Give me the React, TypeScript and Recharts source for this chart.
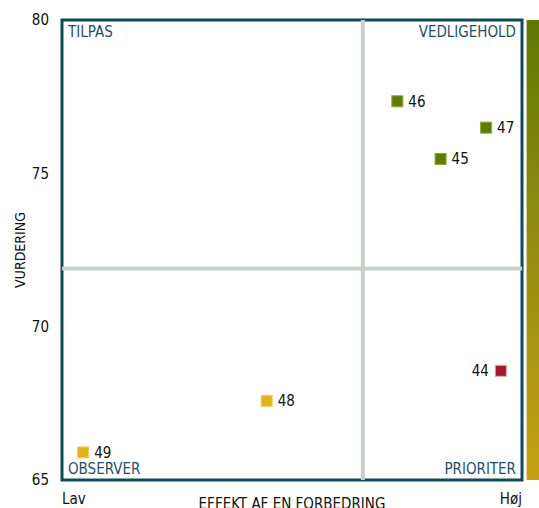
import React from 'react';
import { ScatterChart, Scatter, XAxis, YAxis, ReferenceLine, ReferenceArea, Label } from 'recharts';

// ---- data ----
const ids = ['44', '45', '46', '47', '48', '49'];
const effect = [95.4, 82.3, 72.9, 92.2, 44.5, 4.6];
const rating = [68.56, 75.47, 77.35, 76.49, 67.58, 65.9];
const groups = ['red', 'green', 'green', 'green', 'yellow', 'yellow'];
const leftLabelled = ['44'];
const yTicks = [65, 70, 75, 80];
const xTicks = [0, 100];
const xTickLabels = ['Lav', 'Høj'];
const xDomain: [number, number] = [0, 100];
const yDomain: [number, number] = [65, 80];
const xMid = 65.4;
const yMid = 71.9;
const quadrantLabels = ['TILPAS', 'VEDLIGEHOLD', 'OBSERVER', 'PRIORITER'];

const FONT = "'DejaVu Sans Condensed', 'DejaVu Sans', sans-serif";
const TEAL = '#0e4a5e';
const QTEXT = '#1d5068';

const groupStyle: Record<string, { fill: string; stroke: string }> = {
  green: { fill: '#5e7a00', stroke: '#8fa828' },
  yellow: { fill: '#e3b21e', stroke: '#f2cc60' },
  red: { fill: '#a3192b', stroke: '#e7a0a8' },
};

const points = ids.map((id, i) => ({ id, x: effect[i], y: rating[i], group: groups[i] }));
const seriesNames = ['green', 'yellow', 'red'];

const Marker = (props: any) => {
  const { cx, cy, payload } = props;
  if (cx == null || cy == null) return null;
  const st = groupStyle[payload.group];
  const left = leftLabelled.includes(payload.id);
  return (
    <g>
      <rect x={cx - 5.5} y={cy - 5.5} width={11} height={11} fill={st.fill} stroke={st.stroke} strokeWidth={1} />
      <text
        x={left ? cx - 12 : cx + 11}
        y={cy}
        dy="0.36em"
        textAnchor={left ? 'end' : 'start'}
        fill="#111"
        fontSize={15}
        fontFamily={FONT}
      >
        {payload.id}
      </text>
    </g>
  );
};

const XTick = (props: any) => {
  const { x, y, payload, index } = props;
  const first = index === 0;
  return (
    <text x={x} y={y} dy="0.71em" textAnchor={first ? 'start' : 'end'} fill="#111" fontSize={15} fontFamily={FONT}>
      {xTickLabels[xTicks.indexOf(payload.value)]}
    </text>
  );
};

const YLabel = (props: any) => {
  const vb = props.viewBox || {};
  const cx = 19.5;
  const cy = (vb.y ?? 20) + (vb.height ?? 460) / 2;
  return (
    <text
      x={cx}
      y={cy}
      dy="0.36em"
      transform={`rotate(-90, ${cx}, ${cy})`}
      textAnchor="middle"
      fill="#111"
      fontSize={14}
      fontFamily={FONT}
    >
      VURDERING
    </text>
  );
};

export default function App() {
  const qLabel = (i: number, position: any) => ({
    value: quadrantLabels[i],
    position,
    offset: 6,
    fill: QTEXT,
    fontSize: 15,
    fontFamily: FONT,
  });
  return (
    <div style={{ position: 'absolute', left: 0, top: 0, background: '#fff' }}>
      <ScatterChart width={539} height={508} margin={{ top: 20, right: 17, left: 0, bottom: 0 }}>
        <defs>
          <linearGradient id="scaleGrad" x1="0" y1="0" x2="0" y2="1">
            <stop offset="0%" stopColor="#5e7800" />
            <stop offset="40%" stopColor="#8a8a10" />
            <stop offset="100%" stopColor="#c6a012" />
          </linearGradient>
        </defs>
        <XAxis
          type="number"
          dataKey="x"
          domain={xDomain}
          ticks={xTicks}
          tick={<XTick />}
          axisLine={false}
          tickLine={false}
          tickSize={0}
          tickMargin={13}
          height={28}
          allowDataOverflow
        >
          <Label value="EFFEKT AF EN FORBEDRING" position="insideBottom" offset={-1} fill="#111" fontSize={15} fontFamily={FONT} />
        </XAxis>
        <YAxis
          type="number"
          dataKey="y"
          domain={yDomain}
          ticks={yTicks}
          axisLine={false}
          tickLine={false}
          tickSize={0}
          tickMargin={13}
          width={62}
          tick={{ fill: '#111', fontSize: 15, fontFamily: FONT }}
          allowDataOverflow
          label={<YLabel />}
        />
        <ReferenceArea x1={101} x2={104} y1={65} y2={80} ifOverflow="visible" fill="url(#scaleGrad)" fillOpacity={1} stroke="none" />
        <ReferenceLine x={xMid} stroke="#c7d0c8" strokeWidth={4} />
        <ReferenceLine y={yMid} stroke="#c7d0c8" strokeWidth={4} />
        <ReferenceArea x1={0} x2={xMid} y1={yMid} y2={80} fillOpacity={0} strokeOpacity={0} label={qLabel(0, 'insideTopLeft')} />
        <ReferenceArea x1={xMid} x2={100} y1={yMid} y2={80} fillOpacity={0} strokeOpacity={0} label={qLabel(1, 'insideTopRight')} />
        <ReferenceArea x1={0} x2={xMid} y1={65} y2={yMid} fillOpacity={0} strokeOpacity={0} label={qLabel(2, 'insideBottomLeft')} />
        <ReferenceArea x1={xMid} x2={100} y1={65} y2={yMid} fillOpacity={0} strokeOpacity={0} label={qLabel(3, 'insideBottomRight')} />
        <ReferenceArea x1={0} x2={100} y1={65} y2={80} fill="none" fillOpacity={0} stroke={TEAL} strokeWidth={3} />
        {seriesNames.map((g) => (
          <Scatter
            key={g}
            data={points.filter((p) => p.group === g)}
            shape={<Marker />}
            isAnimationActive={false}
          />
        ))}
      </ScatterChart>
    </div>
  );
}
